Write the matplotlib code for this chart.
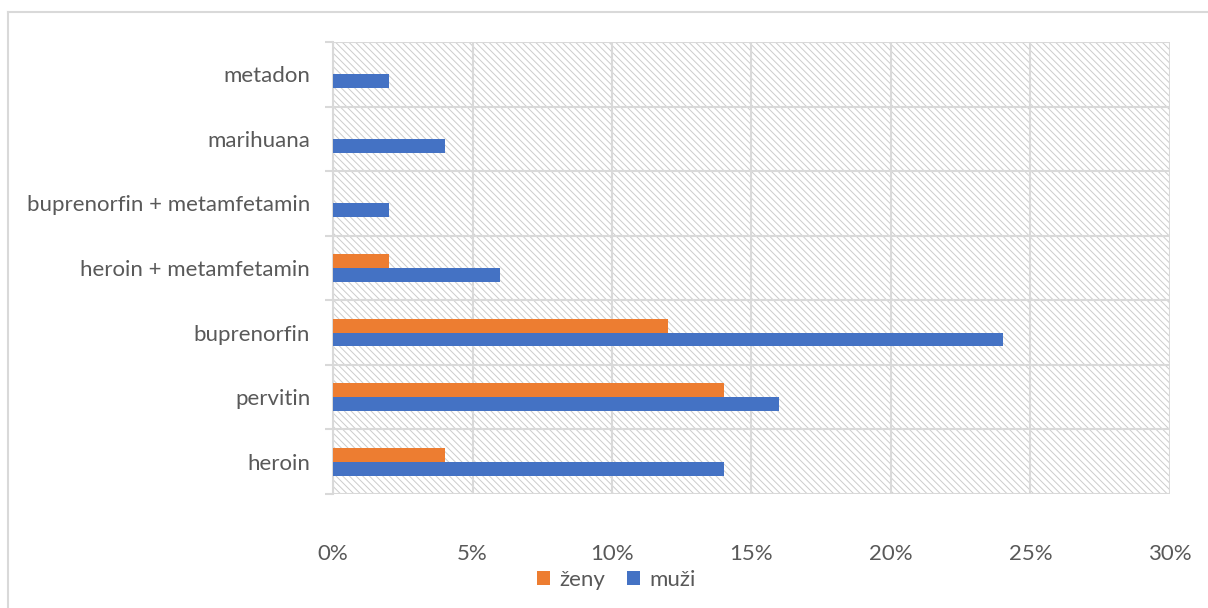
import numpy as np
import matplotlib.pyplot as plt
from matplotlib.patches import Rectangle

plt.rcParams["font.family"] = ["Lato", "DejaVu Sans"]
plt.rcParams["hatch.linewidth"] = 0.7

# data
categories = ["heroin", "pervitin", "buprenorfin", "heroin + metamfetamin",
              "buprenorfin + metamfetamin", "marihuana", "metadon"]
zeny = [4, 14, 12, 2, 0, 0, 0]
muzi = [14, 16, 24, 6, 2, 4, 2]
xticks = [0, 5, 10, 15, 20, 25, 30]

orange = "#ED7D31"
blue = "#4472C4"
grid_c = "#D9D9D9"
text_c = "#595959"

fig = plt.figure(figsize=(12.08, 6.08), dpi=100)
ax = fig.add_axes([0.2757, 0.1875, 0.6928, 0.7434])

# outer chart border (only top and left visible)
fig.add_artist(plt.Line2D([8 / 1208, 8 / 1208], [0, 1 - 12 / 608],
                          transform=fig.transFigure, color=grid_c, lw=1.5))
fig.add_artist(plt.Line2D([8 / 1208, 1], [1 - 12 / 608, 1 - 12 / 608],
                          transform=fig.transFigure, color=grid_c, lw=1.5))

# hatched plot area
ax.add_patch(Rectangle((0, 0), 1, 1, transform=ax.transAxes, facecolor="white",
                       edgecolor="#CCCCCC", hatch="\\\\\\\\\\", lw=0, zorder=0))

y = np.arange(len(categories))
h = 0.215
ax.barh(y + h / 2, zeny, height=h, color=orange, label="ženy", zorder=3)
ax.barh(y - h / 2, muzi, height=h, color=blue, label="muži", zorder=3)

ax.set_xlim(0, 30)
ax.set_ylim(-0.5, len(categories) - 0.5)
ax.set_xticks(xticks)
ax.set_xticklabels([f"{v}%" for v in xticks])
ax.set_yticks(y)
ax.set_yticklabels(categories)
ax.set_yticks(np.arange(len(categories) + 1) - 0.5, minor=True)

ax.grid(axis="x", color=grid_c, lw=1.5, zorder=1)
ax.grid(axis="y", which="minor", color=grid_c, lw=1.5, zorder=1)
ax.set_axisbelow(True)

for s in ax.spines.values():
    s.set_visible(False)
ax.spines["left"].set_visible(True)
ax.spines["left"].set_color(grid_c)
ax.spines["left"].set_linewidth(1.5)

ax.tick_params(axis="x", length=0, pad=36, labelsize=16, labelcolor=text_c)
ax.tick_params(axis="y", which="major", length=0, pad=16.5, labelsize=16,
               labelcolor=text_c)
ax.tick_params(axis="y", which="minor", length=6, width=1.5, color=grid_c)

leg = fig.legend(loc="center", bbox_to_anchor=(0.51, 0.046), ncol=2,
                 frameon=False, fontsize=16, handlelength=0.6,
                 handleheight=0.6, handletextpad=0.4, columnspacing=1.0)
for t in leg.get_texts():
    t.set_color(text_c)

plt.savefig("out.png", dpi=100)
